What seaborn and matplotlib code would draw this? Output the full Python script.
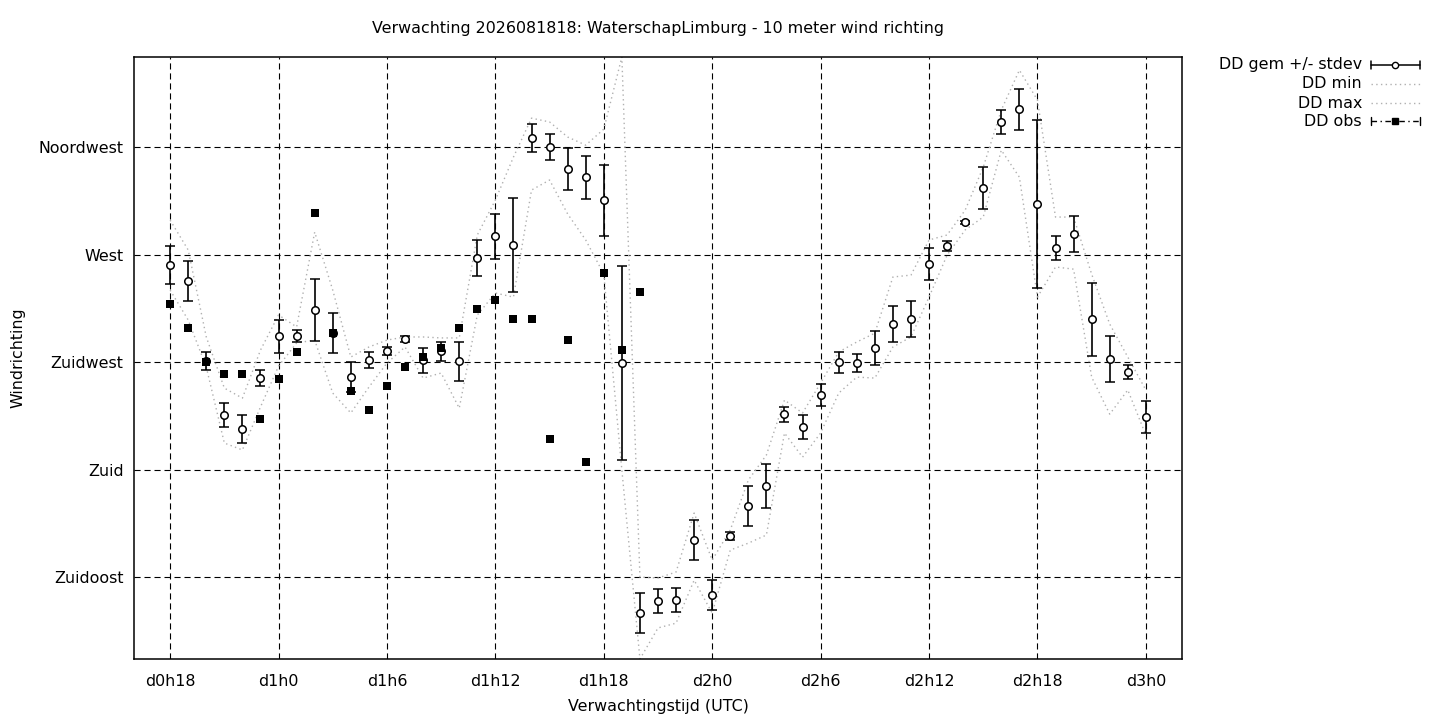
import numpy as np
import pandas as pd
import matplotlib
matplotlib.use("Agg")
import matplotlib.pyplot as plt
import seaborn as sns
from matplotlib.lines import Line2D

# ---------------- data (degrees, hourly forecast steps) ----------------
hours = list(range(18, 73))
dd_mean = [265.6, 258.9, 225.4, 202.8, 197.0, 218.3, 235.9, 235.9, 246.8, 237.1,
           218.7, 225.8, 229.6, 234.6, 225.8, 229.6, 225.4, 268.5, 277.7, 274.0,
           318.8, 315.0, 305.8, 302.4, 292.8, 224.6, 119.9, 125.0, 125.4, 150.5,
           127.5, 152.2, 164.7, 173.1, 203.2, 197.8, 211.2, 225.0, 224.6, 230.9,
           240.9, 243.0, 266.0, 273.6, 283.6, 297.8, 325.5, 330.9, 291.1, 272.7,
           278.6, 243.0, 226.3, 220.8, 202.0]
dd_std = [8.0, 8.2, 3.8, 5.0, 5.7, 3.3, 6.9, 2.5, 13.0, 8.4,
          6.3, 3.3, 1.7, 1.3, 5.2, 4.0, 8.2, 7.5, 9.4, 19.7,
          5.7, 5.4, 8.8, 9.0, 14.9, 40.8, 8.4, 5.0, 5.2, 8.2,
          6.1, 1.7, 8.4, 9.2, 3.1, 5.0, 4.6, 4.4, 3.6, 7.1,
          7.7, 7.5, 6.7, 2.1, 0.6, 8.8, 5.2, 8.6, 35.2, 5.0,
          7.5, 15.3, 9.6, 2.9, 6.7]
dd_min = [255.1, 242.6, 222.9, 191.1, 188.2, 206.2, 223.3, 233.0, 234.2, 212.0,
          203.7, 214.5, 224.6, 231.3, 218.3, 220.4, 205.7, 244.7, 253.9, 252.2,
          297.0, 301.2, 287.0, 276.1, 261.8, 179.8, 100.7, 113.7, 115.7, 133.7,
          119.9, 146.3, 149.2, 152.6, 195.3, 185.2, 195.3, 212.0, 218.7, 218.3,
          231.3, 235.5, 252.2, 269.8, 280.3, 285.7, 313.7, 302.4, 252.2, 264.8,
          263.9, 218.7, 203.2, 213.3, 194.4]
dd_max = [284.4, 271.9, 235.5, 214.1, 209.9, 230.0, 244.7, 239.7, 279.4, 255.1,
          227.1, 231.3, 234.2, 235.5, 235.5, 235.1, 235.1, 278.2, 292.8, 310.8,
          327.1, 325.5, 319.2, 315.8, 322.5, 352.7, 135.0, 134.6, 137.1, 161.8,
          142.1, 154.7, 175.6, 186.1, 209.1, 203.7, 216.2, 229.2, 233.4, 237.1,
          260.6, 261.4, 276.1, 278.2, 288.6, 306.6, 330.5, 347.2, 334.7, 285.7,
          285.7, 261.8, 240.9, 227.1, 213.3]
obs_hours = list(range(18, 45))
dd_obs = [249.3, 239.2, 225.0, 220.0, 220.0, 201.1, 217.9, 229.2, 287.4, 237.1,
          212.9, 204.9, 215.0, 222.9, 227.1, 230.9, 239.2, 247.2, 251.0, 243.0,
          243.0, 192.8, 234.2, 183.1, 262.3, 230.0, 254.3]

ytick_vals = [135, 180, 225, 270, 315]
ytick_labels = ["Zuidoost", "Zuid", "Zuidwest", "West", "Noordwest"]
xtick_vals = [18, 24, 30, 36, 42, 48, 54, 60, 66, 72]
xtick_labels = ["d0h18", "d1h0", "d1h6", "d1h12", "d1h18",
                "d2h0", "d2h6", "d2h12", "d2h18", "d3h0"]
legend_labels = ["DD gem +/- stdev", "DD min", "DD max", "DD obs"]
title = "Verwachting 2026081818: WaterschapLimburg - 10 meter wind richting"

# ---------------- style ----------------
sns.set_theme(style="white")
plt.rcParams["font.family"] = ["DejaVu Sans"]
FS = 11.4

W, H = 1440, 720
fig = plt.figure(figsize=(W / 100, H / 100), dpi=100)
fig.patch.set_facecolor("white")
L, R, T, B = 134, 1182, 57, 659
ax = fig.add_axes([L / W, 1 - B / H, (R - L) / W, (B - T) / H])
ax.set_facecolor("white")

fc = pd.DataFrame({"uur": hours, "gem": dd_mean, "std": dd_std,
                   "min": dd_min, "max": dd_max})
ob = pd.DataFrame({"uur": obs_hours, "obs": dd_obs})

dot = (0, (1, 2.4))
grey = "#b0b0b0"
sns.lineplot(data=fc, x="uur", y="min", ax=ax, color=grey, lw=1.0,
             linestyle=dot, zorder=2)
sns.lineplot(data=fc, x="uur", y="max", ax=ax, color=grey, lw=1.0,
             linestyle=dot, zorder=2)
ax.errorbar(fc["uur"], fc["gem"], yerr=fc["std"], fmt="o", ms=5.4,
            mfc="white", mec="black", mew=1.1, ecolor="black",
            elinewidth=1.2, capsize=3.3, capthick=1.2, zorder=3)
sns.scatterplot(data=ob, x="uur", y="obs", ax=ax, marker="s", s=32,
                color="black", edgecolor="black", linewidth=0, zorder=4)

ax.set_xlim(16, 74)
ax.set_ylim(min(dd_min), max(dd_max))
ax.set_xticks(xtick_vals)
ax.set_xticklabels(xtick_labels, fontsize=FS)
ax.set_yticks(ytick_vals)
ax.set_yticklabels(ytick_labels, fontsize=FS)
ax.tick_params(axis="both", length=0, colors="black")
ax.tick_params(axis="x", pad=10.5)
ax.tick_params(axis="y", pad=7.5)
ax.grid(True, color="black", lw=0.8, linestyle=(0, (5.5, 3.5)))
for s in ax.spines.values():
    s.set_visible(True)
    s.set_color("black")
    s.set_linewidth(1.1)

ax.set_xlabel("Verwachtingstijd (UTC)", fontsize=FS, color="black")
ax.set_ylabel("Windrichting", fontsize=FS, color="black")
ax.xaxis.set_label_coords(0.5, (B - 707) / (B - T))
ax.xaxis.label.set_va("center")
ax.yaxis.set_label_coords((18 - L) / (R - L), 0.5)
ax.yaxis.label.set_va("center")

fig.text(658 / W, 1 - 29 / H, title, ha="center", va="center",
         fontsize=FS, color="black")

# ---------------- legend (gnuplot style: text right, sample left) ----------------
tf = fig.transFigure
def fx(px):
    return px / W
def fy(py):
    return 1 - py / H

rows = [65, 84, 103, 121]
x0, x1, xm = 1371, 1420, 1395
for lab, yy in zip(legend_labels, rows):
    fig.text(fx(1362), fy(yy), lab, ha="right", va="center",
             fontsize=FS, color="black")

def caps(yy, lw):
    for xx in (x0, x1):
        fig.add_artist(Line2D([fx(xx), fx(xx)], [fy(yy - 4), fy(yy + 4)],
                              transform=tf, color="black", lw=lw))

# gem +/- stdev
fig.add_artist(Line2D([fx(x0), fx(x1)], [fy(rows[0])] * 2, transform=tf,
                      color="black", lw=1.1))
caps(rows[0], 1.1)
fig.add_artist(Line2D([fx(xm)], [fy(rows[0])], transform=tf, marker="o",
                      ms=4.5, mfc="white", mec="black", mew=1.0, lw=0))
# min / max
for yy in rows[1:3]:
    fig.add_artist(Line2D([fx(x0), fx(x1)], [fy(yy)] * 2, transform=tf,
                          color=grey, lw=1.0, linestyle=dot))
# obs
fig.add_artist(Line2D([fx(x0), fx(x1)], [fy(rows[3])] * 2, transform=tf,
                      color="black", lw=1.0, linestyle=(0, (4, 2.5, 1, 2.5))))
caps(rows[3], 1.0)
fig.add_artist(Line2D([fx(xm)], [fy(rows[3])], transform=tf, marker="s",
                      ms=5, mfc="black", mec="black", lw=0))

fig.savefig("out.png", dpi=100, facecolor="white")
